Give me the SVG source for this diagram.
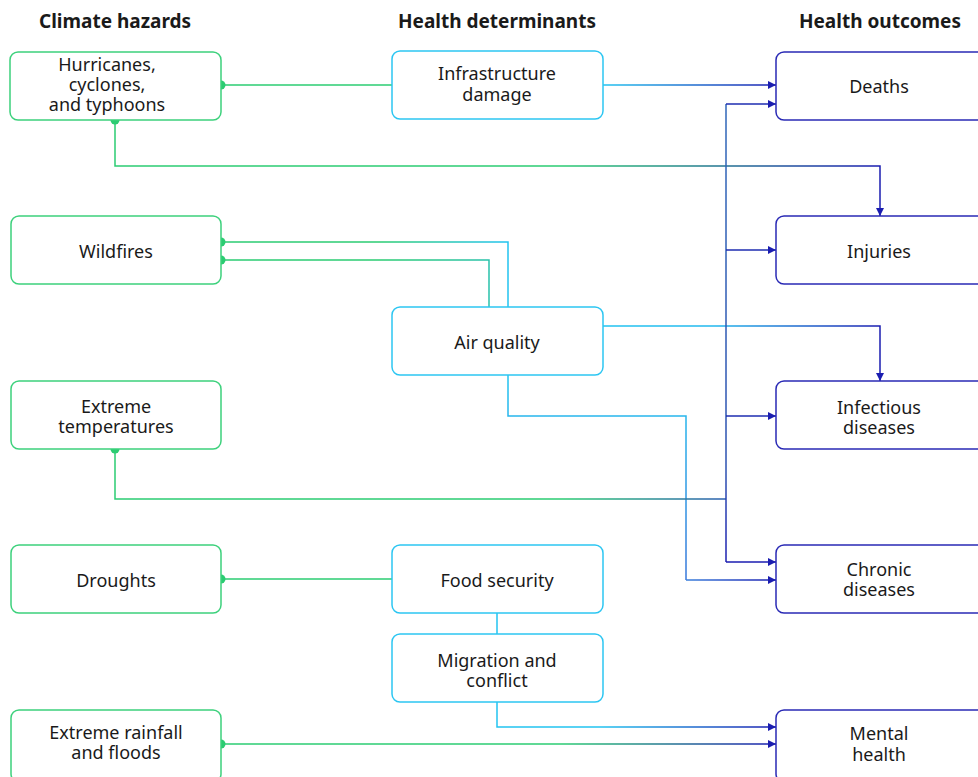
<svg xmlns="http://www.w3.org/2000/svg" width="978" height="777" viewBox="0 0 978 777">
<style>
text{font-family:"Noto Sans","Open Sans","DejaVu Sans",sans-serif;font-size:18px;fill:#1a1a1a;text-anchor:middle}
.h{font-weight:bold;font-size:19px}
.bx{fill:#fff;stroke-width:1.5}
.g{stroke:#3dd17c}
.c{stroke:#2cc6f2}
.b{stroke:#2a2ab5}
.ln{fill:none;stroke-width:1.5}
</style>
<defs>
<marker id="arr" markerUnits="userSpaceOnUse" markerWidth="10" markerHeight="10" refX="9" refY="5" orient="auto"><path d="M1,1 L9,5 L1,9 Z" fill="#1b1db0"/></marker>
<marker id="dot" markerUnits="userSpaceOnUse" markerWidth="12" markerHeight="12" refX="6" refY="6" orient="auto"><circle cx="6" cy="6" r="4.5" fill="#2bcc72"/></marker>
<linearGradient id="gInf" gradientUnits="userSpaceOnUse" x1="603" y1="0" x2="776" y2="0"><stop offset="0" stop-color="#22c3f0"/><stop offset="1" stop-color="#1b1db0"/></linearGradient>
<linearGradient id="gHur" gradientUnits="userSpaceOnUse" x1="560" y1="0" x2="880" y2="0"><stop offset="0" stop-color="#2bcc72"/><stop offset="1" stop-color="#1b1db0"/></linearGradient>
<linearGradient id="gW1" gradientUnits="userSpaceOnUse" x1="380" y1="0" x2="508" y2="0"><stop offset="0" stop-color="#2bcc72"/><stop offset="1" stop-color="#22c3f0"/></linearGradient>
<linearGradient id="gW2" gradientUnits="userSpaceOnUse" x1="380" y1="0" x2="500" y2="0"><stop offset="0" stop-color="#2bcc72"/><stop offset="1" stop-color="#28c0b0"/></linearGradient>
<linearGradient id="gAQ1" gradientUnits="userSpaceOnUse" x1="603" y1="0" x2="880" y2="0"><stop offset="0" stop-color="#22c3f0"/><stop offset="0.4" stop-color="#22b8ee"/><stop offset="1" stop-color="#1b1db0"/></linearGradient>
<linearGradient id="gAQ2" gradientUnits="userSpaceOnUse" x1="0" y1="380" x2="0" y2="600"><stop offset="0" stop-color="#22c3f0"/><stop offset="1" stop-color="#3a6fd8"/></linearGradient>
<linearGradient id="gAQ3" gradientUnits="userSpaceOnUse" x1="686" y1="0" x2="776" y2="0"><stop offset="0" stop-color="#3a7fdc"/><stop offset="1" stop-color="#1b1db0"/></linearGradient>
<linearGradient id="gET" gradientUnits="userSpaceOnUse" x1="560" y1="0" x2="726" y2="0"><stop offset="0" stop-color="#2bcc72"/><stop offset="1" stop-color="#2c5fb0"/></linearGradient>
<linearGradient id="gBus" gradientUnits="userSpaceOnUse" x1="0" y1="104" x2="0" y2="562"><stop offset="0" stop-color="#2f66b8"/><stop offset="0.8" stop-color="#2b50b0"/><stop offset="1" stop-color="#1b1db0"/></linearGradient>
<linearGradient id="gMig" gradientUnits="userSpaceOnUse" x1="600" y1="0" x2="776" y2="0"><stop offset="0" stop-color="#22c3f0"/><stop offset="1" stop-color="#1b1db0"/></linearGradient>
<linearGradient id="gRain" gradientUnits="userSpaceOnUse" x1="560" y1="0" x2="776" y2="0"><stop offset="0" stop-color="#2bcc72"/><stop offset="1" stop-color="#1b1db0"/></linearGradient>
</defs>
<rect width="978" height="777" fill="#fff"/>
<g id="headers">
<text class="h" x="115" y="28">Climate hazards</text>
<text class="h" x="497" y="28">Health determinants</text>
<text class="h" x="880" y="28">Health outcomes</text>
</g>
<g id="connectors">
<path class="ln" d="M221,85 H392" stroke="#2bcc72" marker-start="url(#dot)"/>
<path class="ln" d="M603,85 H776" stroke="url(#gInf)" marker-end="url(#arr)"/>
<path class="ln" d="M115,120 V166 H880 V216" stroke="url(#gHur)" marker-start="url(#dot)" marker-end="url(#arr)"/>
<path class="ln" d="M221,242 H508 V307" stroke="url(#gW1)" marker-start="url(#dot)"/>
<path class="ln" d="M221,260 H489 V307" stroke="url(#gW2)" marker-start="url(#dot)"/>
<path class="ln" d="M603,326 H880 V381" stroke="url(#gAQ1)" marker-end="url(#arr)"/>
<path class="ln" d="M508,375 V416 H686 V580" stroke="url(#gAQ2)"/>
<path class="ln" d="M686,580 H776" stroke="url(#gAQ3)" marker-end="url(#arr)"/>
<path class="ln" d="M115,449 V499 H726" stroke="url(#gET)" marker-start="url(#dot)"/>
<path class="ln" d="M726,562 V104" stroke="url(#gBus)"/>
<path class="ln" d="M726,104 H776" stroke="#1e2db0" marker-end="url(#arr)"/>
<path class="ln" d="M726,250 H776" stroke="#1e2db0" marker-end="url(#arr)"/>
<path class="ln" d="M726,416 H776" stroke="#1e2db0" marker-end="url(#arr)"/>
<path class="ln" d="M726,562 H776" stroke="#1b1db0" marker-end="url(#arr)"/>
<path class="ln" d="M221,579 H392" stroke="#2bcc72" marker-start="url(#dot)"/>
<path class="ln" d="M497,613 V634" stroke="#22c3f0"/>
<path class="ln" d="M497,702 V727 H776" stroke="url(#gMig)" marker-end="url(#arr)"/>
<path class="ln" d="M221,744 H776" stroke="url(#gRain)" marker-start="url(#dot)" marker-end="url(#arr)"/>
</g>
<g id="hurricanes"><rect class="bx g" x="10" y="52" width="211" height="68" rx="8"/><text x="107" y="71">Hurricanes,</text><text x="107" y="91">cyclones,</text><text x="107" y="111">and typhoons</text></g>
<g id="wildfires"><rect class="bx g" x="11" y="216" width="210" height="68" rx="8"/><text x="116" y="258">Wildfires</text></g>
<g id="extreme-temperatures"><rect class="bx g" x="11" y="381" width="210" height="68" rx="8"/><text x="116" y="413">Extreme</text><text x="116" y="433">temperatures</text></g>
<g id="droughts"><rect class="bx g" x="11" y="545" width="210" height="68" rx="8"/><text x="116" y="587">Droughts</text></g>
<g id="extreme-rainfall"><rect class="bx g" x="11" y="710" width="210" height="72" rx="8"/><text x="116" y="739">Extreme rainfall</text><text x="116" y="759">and floods</text></g>
<g id="infrastructure"><rect class="bx c" x="392" y="51" width="211" height="68" rx="8"/><text x="497" y="80">Infrastructure</text><text x="497" y="101">damage</text></g>
<g id="air-quality"><rect class="bx c" x="392" y="307" width="211" height="68" rx="8"/><text x="497" y="349">Air quality</text></g>
<g id="food-security"><rect class="bx c" x="392" y="545" width="211" height="68" rx="8"/><text x="497" y="587">Food security</text></g>
<g id="migration"><rect class="bx c" x="392" y="634" width="211" height="68" rx="8"/><text x="497" y="667">Migration and</text><text x="497" y="687">conflict</text></g>
<g id="deaths"><rect class="bx b" x="776" y="52" width="212" height="68" rx="8"/><text x="879" y="93">Deaths</text></g>
<g id="injuries"><rect class="bx b" x="776" y="216" width="212" height="68" rx="8"/><text x="879" y="258">Injuries</text></g>
<g id="infectious"><rect class="bx b" x="776" y="381" width="212" height="68" rx="8"/><text x="879" y="414">Infectious</text><text x="879" y="434">diseases</text></g>
<g id="chronic"><rect class="bx b" x="776" y="545" width="212" height="68" rx="8"/><text x="879" y="576">Chronic</text><text x="879" y="596">diseases</text></g>
<g id="mental"><rect class="bx b" x="776" y="710" width="212" height="72" rx="8"/><text x="879" y="740">Mental</text><text x="879" y="761">health</text></g>
</svg>
